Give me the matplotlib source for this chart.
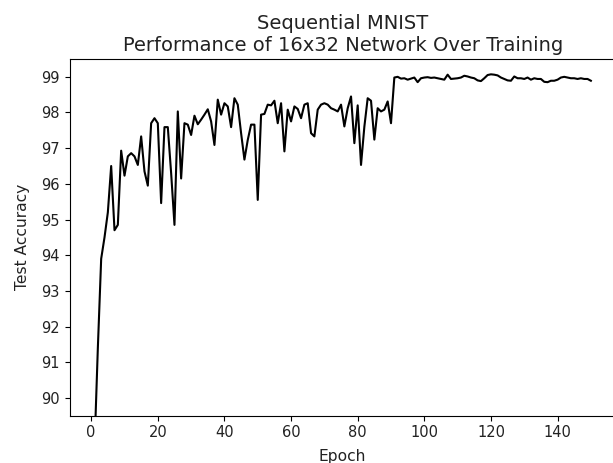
import matplotlib
matplotlib.use("Agg")
import matplotlib.pyplot as plt
import numpy as np

# test accuracy per epoch (epochs 1..150)
epochs = np.arange(1, 151)
accuracy = [
    88.60, 91.40, 93.90, 94.50, 95.20, 96.50, 94.70, 94.85, 96.93, 96.23,
    96.77, 96.86, 96.77, 96.53, 97.33, 96.35, 95.95, 97.70, 97.84, 97.70,
    95.46, 97.59, 97.59, 96.30, 94.85, 98.03, 96.15, 97.70, 97.66, 97.37,
    97.91, 97.67, 97.80, 97.94, 98.09, 97.75, 97.09, 98.36, 97.94, 98.26,
    98.17, 97.59, 98.40, 98.22, 97.42, 96.68, 97.23, 97.66, 97.66, 95.55,
    97.94, 97.96, 98.22, 98.20, 98.33, 97.70, 98.26, 96.91, 98.08, 97.75,
    98.17, 98.10, 97.84, 98.22, 98.26, 97.42, 97.33, 98.08, 98.22, 98.26,
    98.22, 98.12, 98.08, 98.03, 98.22, 97.61, 98.12, 98.45, 97.14, 98.20,
    96.53, 97.60, 98.40, 98.33, 97.24, 98.12, 98.03, 98.08, 98.31, 97.70,
    98.98, 99.00, 98.95, 98.96, 98.92, 98.95, 98.98, 98.85, 98.96, 98.98,
    98.99, 98.97, 98.98, 98.96, 98.94, 98.92, 99.06, 98.94, 98.95, 98.96,
    98.98, 99.03, 99.01, 98.98, 98.96, 98.90, 98.88, 98.96, 99.05, 99.07,
    99.06, 99.04, 98.98, 98.94, 98.90, 98.89, 99.01, 98.96, 98.96, 98.94,
    98.98, 98.92, 98.96, 98.94, 98.94, 98.86, 98.85, 98.89, 98.89, 98.92,
    98.98, 99.00, 98.98, 98.96, 98.96, 98.94, 98.96, 98.94, 98.94, 98.89,
]
y_ticks = list(range(90, 100))

fig = plt.figure(figsize=(6.13, 4.63), dpi=100)
# axes runs a little past the right edge, like the cropped original
ax = fig.add_axes([0.1137, 0.1021, 0.8907, 0.7705])
ax.plot(epochs, accuracy, color="black", lw=1.5)
ax.set_ylim(89.5, 99.5)
ax.set_yticks(y_ticks)
ax.tick_params(labelsize=10.5, labelcolor="#222222")
ax.set_xlabel("Epoch", fontsize=11.2, color="#222222", labelpad=6)
ax.set_ylabel("Test Accuracy", fontsize=11.2, color="#222222", labelpad=8)
ax.set_title("Sequential MNIST\nPerformance of 16x32 Network Over Training",
             fontsize=14, color="#222222")

fig.savefig("out.png", dpi=100, facecolor="white")
